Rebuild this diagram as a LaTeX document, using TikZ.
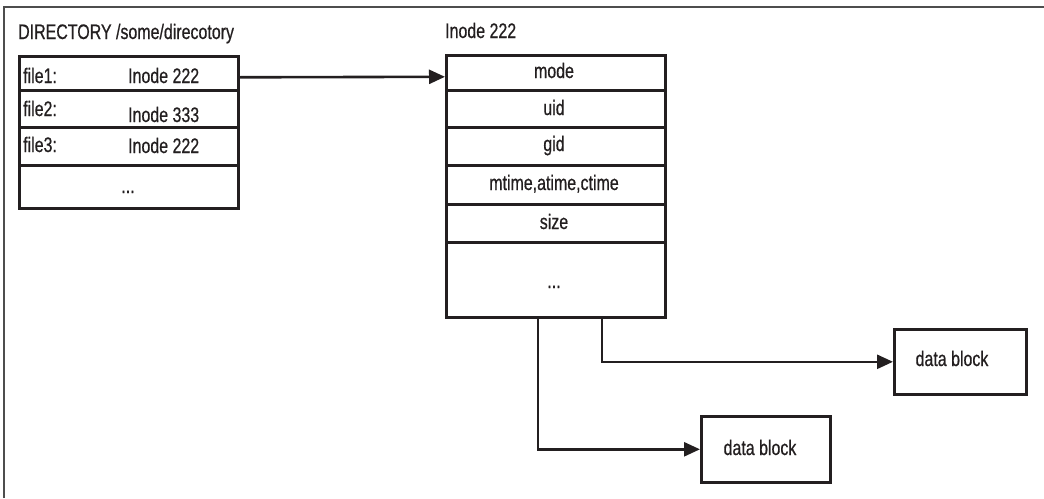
\documentclass[tikz,border=0pt]{standalone}
\usepackage{fontspec}
\setmainfont{Liberation Sans}[FakeStretch=0.76, FakeBold=0.6]
\usetikzlibrary{arrows.meta}
\definecolor{ink}{HTML}{231F20}
\definecolor{frame}{HTML}{4D4D4D}
\tikzset{
  x=1pt, y=-1pt,
  cell/.style={draw=ink, line width=2.6pt, anchor=north west, inner sep=0pt},
  lbl/.style={font=\fontsize{21}{24}\selectfont, text=ink, inner sep=0pt},
  arr/.style={draw=ink, line width=2.6pt, -{Triangle[length=16pt,width=14pt]}},
}
\begin{document}
\begin{tikzpicture}
\useasboundingbox (0,0) rectangle (1044,498);
% outer frame: top and left edges only
\draw[frame, line width=2pt] (4,498) -- (4,7) -- (1044,7);

% directory table
\node[lbl, anchor=base west] (dtitle) at (18,39) {DIRECTORY /some/direcotory};
\node[cell, minimum width=219, minimum height=34] (d1) at (18,55) {};
\node[cell, minimum width=219, minimum height=37] (d2) at (18,89) {};
\node[cell, minimum width=219, minimum height=38] (d3) at (18,126) {};
\node[cell, minimum width=219, minimum height=43] (d4) at (18,164) {};
\node[lbl, anchor=base west] (f1) at (23,83) {file1:};
\node[lbl, anchor=base west] (n1) at (128,83) {Inode 222};
\node[lbl, anchor=base west] (f2) at (23,116) {file2:};
\node[lbl, anchor=base west] (n2) at (128,122) {Inode 333};
\node[lbl, anchor=base west] (f3) at (23,152) {file3:};
\node[lbl, anchor=base west] (n3) at (128,153) {Inode 222};
\node[lbl, anchor=base] (dd) at (128,193) {...};

% inode table
\node[lbl, anchor=base west] (ititle) at (445,38) {Inode 222};
\node[cell, minimum width=219, minimum height=35] (i1) at (445,54) {};
\node[cell, minimum width=219, minimum height=37] (i2) at (445,89) {};
\node[cell, minimum width=219, minimum height=38] (i3) at (445,126) {};
\node[cell, minimum width=219, minimum height=39] (i4) at (445,164) {};
\node[cell, minimum width=219, minimum height=38] (i5) at (445,203) {};
\node[cell, minimum width=219, minimum height=75] (i6) at (445,241) {};
\node[lbl, anchor=base] (t1) at (554,78) {mode};
\node[lbl, anchor=base] (t2) at (554,115) {uid};
\node[lbl, anchor=base] (t3) at (554,151) {gid};
\node[lbl, anchor=base] (t4) at (554,190) {mtime,atime,ctime};
\node[lbl, anchor=base] (t5) at (554,229) {size};
\node[lbl, anchor=base] (t6) at (554,288) {...};

% data blocks
\node[cell, minimum width=132, minimum height=65] (db1) at (893,328) {};
\node[lbl, anchor=base] (db1t) at (952,366) {data block};
\node[cell, minimum width=129, minimum height=66] (db2) at (700,415) {};
\node[lbl, anchor=base] (db2t) at (760,455) {data block};

% connectors
\draw[arr] ([yshift=-4pt]d1.east) -- ([yshift=-4pt]i1.west);
\draw[arr] (i6.south -| 602,0) |- (db1.west);
\draw[arr] (i6.south -| 538,0) |- (db2.west);
\end{tikzpicture}
\end{document}
